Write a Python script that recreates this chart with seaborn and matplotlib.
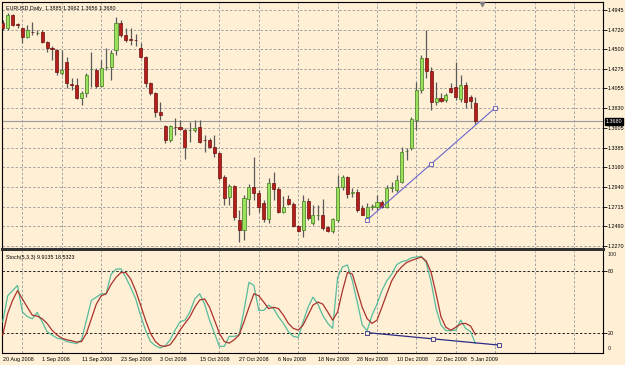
import numpy as np
import pandas as pd
import matplotlib
matplotlib.use('Agg')
import matplotlib.pyplot as plt
import seaborn as sns

# ---------------- data ----------------
symbol = "EURUSD,Daily"
opens = [1.4797, 1.4740, 1.4888, 1.4780, 1.4740, 1.4638, 1.4695, 1.4680, 1.4695, 1.4581,
         1.4514, 1.4491, 1.4230, 1.4355, 1.4100, 1.4094, 1.3947, 1.4003, 1.4270, 1.4264,
         1.4083, 1.4293, 1.4298, 1.4491, 1.4797, 1.4661, 1.4610, 1.4604, 1.4514, 1.4412,
         1.4117, 1.4003, 1.3788, 1.3629, 1.3470, 1.3618, 1.3618, 1.3584, 1.3580, 1.3584,
         1.3618, 1.3470, 1.3470, 1.3391, 1.3323, 1.3051, 1.2824, 1.2949, 1.2563, 1.2450,
         1.2801, 1.2937, 1.2869, 1.2756, 1.2575, 1.2983, 1.2915, 1.2654, 1.2801, 1.2745,
         1.2495, 1.2450, 1.2779, 1.2529, 1.2620, 1.2620, 1.2484, 1.2438, 1.2563, 1.2937,
         1.3051, 1.2869, 1.2881, 1.2699, 1.2597, 1.2711, 1.2711, 1.2767, 1.2711, 1.2926,
         1.2903, 1.2994, 1.3340, 1.3380, 1.3697, 1.4037, 1.4400, 1.4253, 1.3901, 1.3947,
         1.3924, 1.4060, 1.4071, 1.3935, 1.4094, 1.3958, 1.3885]
highs = [1.4831, 1.4911, 1.4900, 1.4797, 1.4752, 1.4775, 1.4808, 1.4718, 1.4718, 1.4593,
         1.4536, 1.4502, 1.4491, 1.4412, 1.4174, 1.4174, 1.4026, 1.4230, 1.4468, 1.4287,
         1.4378, 1.4514, 1.4491, 1.4865, 1.4831, 1.4740, 1.4740, 1.4672, 1.4570, 1.4423,
         1.4128, 1.4015, 1.3901, 1.3640, 1.3640, 1.3720, 1.3697, 1.3606, 1.3674, 1.3697,
         1.3697, 1.3527, 1.3493, 1.3527, 1.3334, 1.3074, 1.2972, 1.2960, 1.2677, 1.2847,
         1.2972, 1.3278, 1.2903, 1.2790, 1.3040, 1.3108, 1.2937, 1.2835, 1.2847, 1.2767,
         1.2507, 1.2847, 1.2813, 1.2733, 1.2733, 1.2801, 1.2495, 1.2586, 1.3074, 1.3074,
         1.3062, 1.2926, 1.2915, 1.2733, 1.2756, 1.2745, 1.2847, 1.2790, 1.2960, 1.2994,
         1.3074, 1.3391, 1.3380, 1.3731, 1.4128, 1.4434, 1.4718, 1.4298, 1.4128, 1.4003,
         1.4003, 1.4117, 1.4355, 1.4208, 1.4128, 1.3981, 1.3962]
lows = [1.4718, 1.4718, 1.4763, 1.4740, 1.4570, 1.4627, 1.4661, 1.4661, 1.4570, 1.4468,
        1.4378, 1.4208, 1.4208, 1.4060, 1.4037, 1.3935, 1.3867, 1.3958, 1.4071, 1.4060,
        1.4071, 1.4264, 1.4151, 1.4434, 1.4638, 1.4581, 1.4548, 1.4536, 1.4400, 1.4071,
        1.3981, 1.3731, 1.3697, 1.3436, 1.3448, 1.3527, 1.3584, 1.3255, 1.3448, 1.3561,
        1.3436, 1.3334, 1.3380, 1.3278, 1.3017, 1.2733, 1.2733, 1.2563, 1.2314, 1.2337,
        1.2620, 1.2790, 1.2654, 1.2541, 1.2529, 1.2790, 1.2643, 1.2643, 1.2733, 1.2484,
        1.2427, 1.2370, 1.2563, 1.2507, 1.2563, 1.2450, 1.2427, 1.2416, 1.2541, 1.2903,
        1.2813, 1.2824, 1.2654, 1.2615, 1.2586, 1.2677, 1.2677, 1.2699, 1.2699, 1.2881,
        1.2881, 1.2983, 1.3244, 1.3357, 1.3584, 1.4003, 1.4174, 1.3811, 1.3867, 1.3901,
        1.3901, 1.4003, 1.3924, 1.3901, 1.3833, 1.3833, 1.3656]
closes = [1.4740, 1.4888, 1.4775, 1.4775, 1.4638, 1.4718, 1.4690, 1.4684, 1.4581, 1.4514,
          1.4505, 1.4242, 1.4264, 1.4117, 1.4094, 1.3947, 1.4003, 1.4208, 1.4276, 1.4083,
          1.4287, 1.4298, 1.4457, 1.4797, 1.4661, 1.4604, 1.4604, 1.4600, 1.4412, 1.4117,
          1.4003, 1.3788, 1.3754, 1.3470, 1.3629, 1.3612, 1.3595, 1.3391, 1.3586, 1.3606,
          1.3448, 1.3465, 1.3391, 1.3323, 1.3040, 1.2813, 1.2949, 1.2597, 1.2450, 1.2813,
          1.2937, 1.2869, 1.2711, 1.2575, 1.2983, 1.2915, 1.2654, 1.2711, 1.2745, 1.2495,
          1.2438, 1.2779, 1.2586, 1.2620, 1.2625, 1.2473, 1.2438, 1.2575, 1.2937, 1.3051,
          1.2858, 1.2881, 1.2677, 1.2620, 1.2711, 1.2716, 1.2767, 1.2711, 1.2926, 1.2932,
          1.3017, 1.3334, 1.3346, 1.3709, 1.4037, 1.4400, 1.4253, 1.3901, 1.3947, 1.3913,
          1.3981, 1.4015, 1.3958, 1.4094, 1.3901, 1.3913, 1.3680]

stoch_k = [31, 56, 61, 66, 40.5, 36, 34, 40, 31, 21.6,
           18.4, 15.3, 14.3, 12, 11, 10, 13.7, 32.6, 51.6, 54.7,
           58, 58, 76.8, 81.6, 82, 73.7, 64, 53, 37, 23,
           12, 8, 5.8, 8, 13.7, 23, 31, 32.6, 40.5, 53,
           58, 48, 32.6, 20, 7.4, 7.4, 17, 17, 18.4, 42,
           69, 66, 42, 42, 47, 43.7, 35.8, 29.5, 21.6, 17,
           16, 31, 45, 54.7, 48, 37, 29.5, 24.7, 73.7, 83.8,
           85.7, 70.5, 50, 28, 22.5, 37.4, 48, 61, 70.5, 76.8,
           86, 88.8, 90, 92.6, 93.3, 94, 88, 69, 43.7, 28,
           22.5, 22.5, 23, 32.6, 24.7, 21.6, 9.9135]
stoch_d = [18.4, 39, 51.6, 61, 53, 45, 37.4, 36.4, 34, 29.5,
           23, 18.4, 15.3, 13.7, 12.7, 11.5, 12, 20, 34, 48,
           56, 58, 67, 73.7, 78.4, 78.4, 72, 61, 47, 32.6,
           20, 12, 8, 7.4, 9, 15.3, 23, 29.5, 35.8, 45,
           52, 53, 45, 32.6, 20, 12, 10.5, 13.7, 18.4, 31,
           45, 58, 56, 50, 43.7, 45, 43.7, 37.4, 29.5, 24.7,
           23, 28, 37.4, 47, 50, 48, 40.5, 32.6, 40.5, 61,
           78.4, 77, 61, 45, 34, 29.5, 32.6, 45, 58, 70.5,
           78.4, 83.8, 88, 90, 91.7, 93.3, 89.5, 78.4, 58, 35.8,
           25.7, 23, 25.7, 29, 29.5, 27, 18.5323]

price_ticks = [1.4945, 1.4720, 1.4500, 1.4275, 1.4055, 1.3830, 1.3605,
               1.3385, 1.3160, 1.2940, 1.2715, 1.2490, 1.2270]
date_labels = ["20 Aug 2008", "1 Sep 2008", "11 Sep 2008", "23 Sep 2008", "3 Oct 2008",
               "15 Oct 2008", "27 Oct 2008", "6 Nov 2008", "18 Nov 2008", "28 Nov 2008",
               "10 Dec 2008", "22 Dec 2008", "5 Jan 2009"]
date_label_bars = [0, 8, 16, 24, 32, 40, 48, 56, 64, 72, 80, 88, 95]
grid_bars = [4, 12, 20, 28, 36, 44, 52, 60, 68, 76, 84, 92, 100, 108, 116]

trend_price_bars = [74, 87, 100]
trend_price_vals = [1.2563, 1.3199, 1.3834]
trend_stoch_bars = [74, 87.4, 100.8]
trend_stoch_vals = [20.6, 14.6, 8.6]
last_price = 1.3680

# ---------------- style ----------------
sns.set_style('white')
plt.rcParams['font.family'] = ['Liberation Sans', 'DejaVu Sans']
BG = '#FFEFD5'
FS = 3.9
W, H = 625, 365

fig = plt.figure(figsize=(W / 100, H / 100), dpi=100, facecolor=BG)
ax1 = fig.add_axes([2 / W, 1 - 249 / H, 601 / W, 247 / H])
ax2 = fig.add_axes([2 / W, 1 - 353 / H, 601 / W, 102.5 / H])
XMIN, XMAX = -0.15, 121.9

grid_kw = dict(color='#A3A3A3', lw=0.7, ls=(0, (2.5, 2)))
for ax in (ax1, ax2):
    ax.set_facecolor(BG)
    ax.set_xlim(XMIN, XMAX)
    ax.set_xticks(grid_bars, minor=True)
    ax.grid(which='minor', axis='x', **grid_kw)
    ax.set_axisbelow(True)
    for s in ax.spines.values():
        s.set_color('black')
        s.set_linewidth(0.8)

# ---------------- candles ----------------
df = pd.DataFrame({'bar': np.arange(len(opens)), 'open': opens, 'high': highs,
                   'low': lows, 'close': closes, 'K': stoch_k, 'D': stoch_d})
up = df['close'] >= df['open']
body_bottom = np.minimum(df['open'], df['close'])
body_h = np.maximum((df['close'] - df['open']).abs(), 0.0003)

ax1.vlines(df['bar'], df['low'], df['high'], color='#5A5A5A', lw=0.9, zorder=2)
ax1.bar(df['bar'][up], body_h[up], bottom=body_bottom[up], width=0.62,
        color='#9BE05C', edgecolor='#3F7D1E', lw=0.5, zorder=3)
ax1.bar(df['bar'][~up], body_h[~up], bottom=body_bottom[~up], width=0.62,
        color='#B51F1B', edgecolor='#6E1010', lw=0.5, zorder=3)

ax1.axhline(last_price, color='#9A9A9A', lw=0.8, zorder=1.5)
ax1.plot(trend_price_bars, trend_price_vals, color='#6A66CC', lw=0.8, zorder=4)
ax1.plot(trend_price_bars, trend_price_vals, ls='none', marker='s', ms=2.6, mfc=BG,
         mec='#5A56BB', mew=0.6, zorder=5)

ax1.set_ylim(1.2234, 1.5035)
ax1.yaxis.tick_right()
ax1.set_yticks(price_ticks)
ax1.set_yticklabels([f'{t:.4f}' for t in price_ticks])
ax1.grid(which='major', axis='y', **grid_kw)
ax1.tick_params(axis='y', which='major', direction='out', length=2.6, width=0.6,
                pad=0.6, labelsize=FS, colors='black')
ax1.tick_params(axis='x', which='both', length=0, labelbottom=False)
ax1.set_xticks([])
ax1.spines['bottom'].set_linewidth(2.2)
ax1.spines['bottom'].set_color('#333333')

ax1.text(4 / 601, 1 - 6.5 / 247,
         f"{symbol}  {opens[-1]:.4f} {highs[-1]:.4f} {lows[-1]:.4f} {closes[-1]:.4f}",
         transform=ax1.transAxes, fontsize=FS, ha='left', va='center', color='black')
ax1.text(1.004, last_price, f'{last_price:.4f}', transform=ax1.get_yaxis_transform(),
         fontsize=FS, ha='left', va='center', color='white', zorder=10, clip_on=False,
         bbox=dict(boxstyle='square,pad=0.12', fc='black', ec='black'))
ax1.scatter([97.4], [1 - 2 / 247], transform=ax1.get_xaxis_transform(), marker='v',
            s=9, color='#808080', clip_on=False, zorder=6)

# ---------------- stochastic ----------------
sns.lineplot(data=df, x='bar', y='K', ax=ax2, color='#56BC9C', lw=0.9, zorder=3)
sns.lineplot(data=df, x='bar', y='D', ax=ax2, color='#A9332C', lw=0.9, zorder=4)
ax2.plot(trend_stoch_bars, trend_stoch_vals, color='#2C2C86', lw=0.9, zorder=5)
ax2.plot(trend_stoch_bars, trend_stoch_vals, ls='none', marker='s', ms=2.6, mfc=BG,
         mec='#2C2C86', mew=0.6, zorder=6)
ax2.set_xlim(XMIN, XMAX)
ax2.set_ylim(1.0, 99.6)
ax2.set_xlabel('')
ax2.set_ylabel('')
ax2.yaxis.tick_right()
ax2.set_yticks([20, 80])
ax2.set_yticklabels(['20', '80'])
ax2.grid(which='major', axis='y', color='#222222', lw=0.7, ls=(0, (2.5, 2)))
ax2.tick_params(axis='y', which='major', direction='out', length=2.6, width=0.6,
                pad=0.6, labelsize=FS, colors='black')
ax2.set_xticks(date_label_bars)
ax2.set_xticklabels(date_labels)
for lbl in ax2.get_xticklabels():
    lbl.set_ha('left')
ax2.tick_params(axis='x', which='major', direction='out', length=2, width=0.6,
                pad=0.8, labelsize=FS, colors='black')
ax2.tick_params(axis='x', which='minor', length=0)
ax2.spines['top'].set_visible(False)
ax2.text(4 / 601, 1 - 6.5 / 102.5,
         f"Stoch(5,3,3) {stoch_k[-1]:.4f} {stoch_d[-1]:.4f}",
         transform=ax2.transAxes, fontsize=FS, ha='left', va='center', color='black')
ax2.text(1.0 + 5 / 601, 1 - 4.5 / 102.5, '100', transform=ax2.transAxes,
         fontsize=FS, ha='left', va='center', clip_on=False)
ax2.text(1.0 + 5 / 601, 4 / 102.5, '0', transform=ax2.transAxes,
         fontsize=FS, ha='left', va='center', clip_on=False)

fig.savefig('out.png', dpi=100, facecolor=BG)
